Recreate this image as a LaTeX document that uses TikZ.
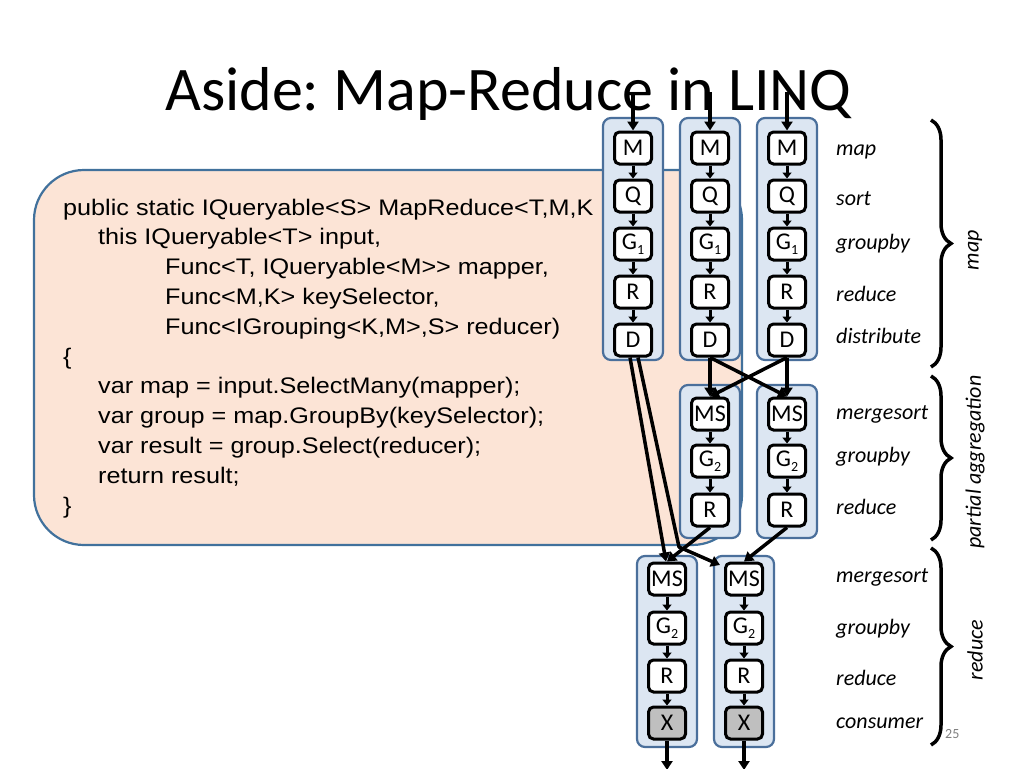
\documentclass[tikz,border=0pt]{standalone}
\usepackage{fontspec}
\setmainfont{Carlito}
\newfontfamily\codefont[FakeStretch=1.12]{Liberation Sans}
\usetikzlibrary{arrows.meta,decorations.pathreplacing}
\definecolor{colfill}{HTML}{DCE6F2}
\definecolor{colline}{HTML}{4A6F9B}
\definecolor{codefill}{HTML}{FCE4D6}
\definecolor{codeline}{HTML}{41719C}
\definecolor{xfill}{HTML}{BFBFBF}
\newcommand{\subone}[1]{\raisebox{-5pt}{\fontsize{14}{14}\selectfont #1}}
\frenchspacing
\begin{document}
\begin{tikzpicture}[x=1pt,y=-1pt,
  colbox/.style={fill=colfill,draw=colline,line width=2.2pt,rounded corners=8pt},
  stage/.style={draw=black,fill=white,line width=3pt,rounded corners=5pt,minimum width=37pt,minimum height=32pt,inner sep=0pt,font=\fontsize{24}{24}\selectfont},
  arr/.style={line width=3.5pt,-{Triangle[length=9pt,width=11pt]}},
  sarr/.style={line width=3pt,-{Triangle[length=6pt,width=9pt]}},
  lbl/.style={anchor=base west,inner sep=0pt,font=\fontsize{22}{22}\selectfont\itshape},
  rlbl/.style={rotate=90,inner sep=0pt,font=\fontsize{22}{22}\selectfont\itshape},
  code/.style={anchor=base west,inner sep=0pt,font=\codefont\fontsize{22.5}{22.5}\selectfont},
  brc/.style={decorate,decoration={brace,amplitude=20pt},line width=3.5pt}
]
\useasboundingbox (0,0) rectangle (1024,768);
\fill[white] (0,0) rectangle (1024,768);

% title
\node[anchor=base west,inner sep=0pt,font=\fontsize{62}{62}\selectfont] (title) at (165,110) {Aside: Map-Reduce in LINQ};

% code box
\draw[fill=codefill,draw=codeline,line width=2.2pt,rounded corners=50pt] (34,170) rectangle (742,545);
\node[code] (c1) at (63,215) {public static IQueryable<S> MapReduce<T,M,K};
\node[code] (c2) at (98,244.8) {this IQueryable<T> input,};
\node[code] (c3) at (165,274.6) {Func<T, IQueryable<M>> mapper,};
\node[code] (c4) at (165,304.4) {Func<M,K> keySelector,};
\node[code] (c5) at (165,334.2) {Func<IGrouping<K,M>,S> reducer)};
\node[code] (c6) at (63,364) {\{};
\node[code] (c7) at (98,393.8) {var map = input.SelectMany(mapper);};
\node[code] (c8) at (98,423.6) {var group = map.GroupBy(keySelector);};
\node[code] (c9) at (98,453.4) {var result = group.Select(reducer);};
\node[code] (c10) at (98,483.2) {return result;};
\node[code] (c11) at (63,513) {\}};

% map columns
\foreach \c/\x in {1/633,2/710,3/787}{
  \draw[colbox] (\x-30,118) rectangle (\x+30,360);
  \node[stage] (M\c) at (\x,148) {M};
  \node[stage] (Q\c) at (\x,196) {Q};
  \node[stage] (G\c) at (\x,244) {G\subone{1}};
  \node[stage] (R\c) at (\x,292) {R};
  \node[stage] (D\c) at (\x,340) {D};
  \coordinate (in\c) at (\x,92);
  \draw[arr] (in\c) -- (M\c);
  \draw[sarr] (M\c) -- (Q\c);
  \draw[sarr] (Q\c) -- (G\c);
  \draw[sarr] (G\c) -- (R\c);
  \draw[sarr] (R\c) -- (D\c);
}

% partial aggregation columns
\foreach \c/\x in {1/710,2/787}{
  \draw[colbox] (\x-30,385) rectangle (\x+30,538);
  \node[stage] (PM\c) at (\x,414) {MS};
  \node[stage] (PG\c) at (\x,461) {G\subone{2}};
  \node[stage] (PR\c) at (\x,510) {R};
  \draw[sarr] (PM\c) -- (PG\c);
  \draw[sarr] (PG\c) -- (PR\c);
}

% reduce columns
\foreach \c/\x in {1/667,2/744}{
  \draw[colbox] (\x-30,556) rectangle (\x+30,747);
  \node[stage] (FM\c) at (\x,579) {MS};
  \node[stage] (FG\c) at (\x,628) {G\subone{2}};
  \node[stage] (FR\c) at (\x,676) {R};
  \node[stage,fill=xfill] (FX\c) at (\x,723) {X};
  \coordinate (out\c) at (\x,770);
  \draw[sarr] (FM\c) -- (FG\c);
  \draw[sarr] (FG\c) -- (FR\c);
  \draw[sarr] (FR\c) -- (FX\c);
  \draw[arr] (FX\c) -- (out\c);
}

% distribution
\draw[arr] (D2.south) -- (PM1.north);
\draw[arr] (D2.south) -- (PM2.north);
\draw[arr] (D3.south) -- (PM1.north);
\draw[arr] (D3.south) -- (PM2.north);
\coordinate (bend) at (679,547);
\coordinate (tgt) at (720,565);
\draw[arr] ([xshift=-3pt]D1.south) -- ([xshift=-1pt]FM1.north);
\draw[arr,line join=round] ([xshift=5pt]D1.south) -- (bend) -- (tgt);
\draw[arr] (PR1.south) -- (FM1.north);
\draw[arr] (PR2.south) -- (FM2.north);

% labels
\node[lbl] (l1) at (836,155) {map};
\node[lbl] (l2) at (836,205) {sort};
\node[lbl] (l3) at (836,249) {groupby};
\node[lbl] (l4) at (836,301) {reduce};
\node[lbl] (l5) at (836,343) {distribute};
\node[lbl] (l6) at (836,419) {mergesort};
\node[lbl] (l7) at (836,462) {groupby};
\node[lbl] (l8) at (836,514) {reduce};
\node[lbl] (l9) at (836,582) {mergesort};
\node[lbl] (l10) at (836,634) {groupby};
\node[lbl] (l11) at (836,685) {reduce};
\node[lbl] (l12) at (836,728) {consumer};

% braces
\draw[brc] (931,120) -- (931,367);
\draw[brc] (931,376) -- (931,540);
\draw[brc] (931,548) -- (931,745);
\node[rlbl] (g1) at (975,250) {map};
\node[rlbl] (g2) at (975,462) {partial aggregation};
\node[rlbl] (g3) at (975,650) {reduce};

\node[anchor=base west,inner sep=0pt,text=gray,font=\fontsize{14}{14}\selectfont] (pg) at (945,738) {25};
\end{tikzpicture}
\end{document}
